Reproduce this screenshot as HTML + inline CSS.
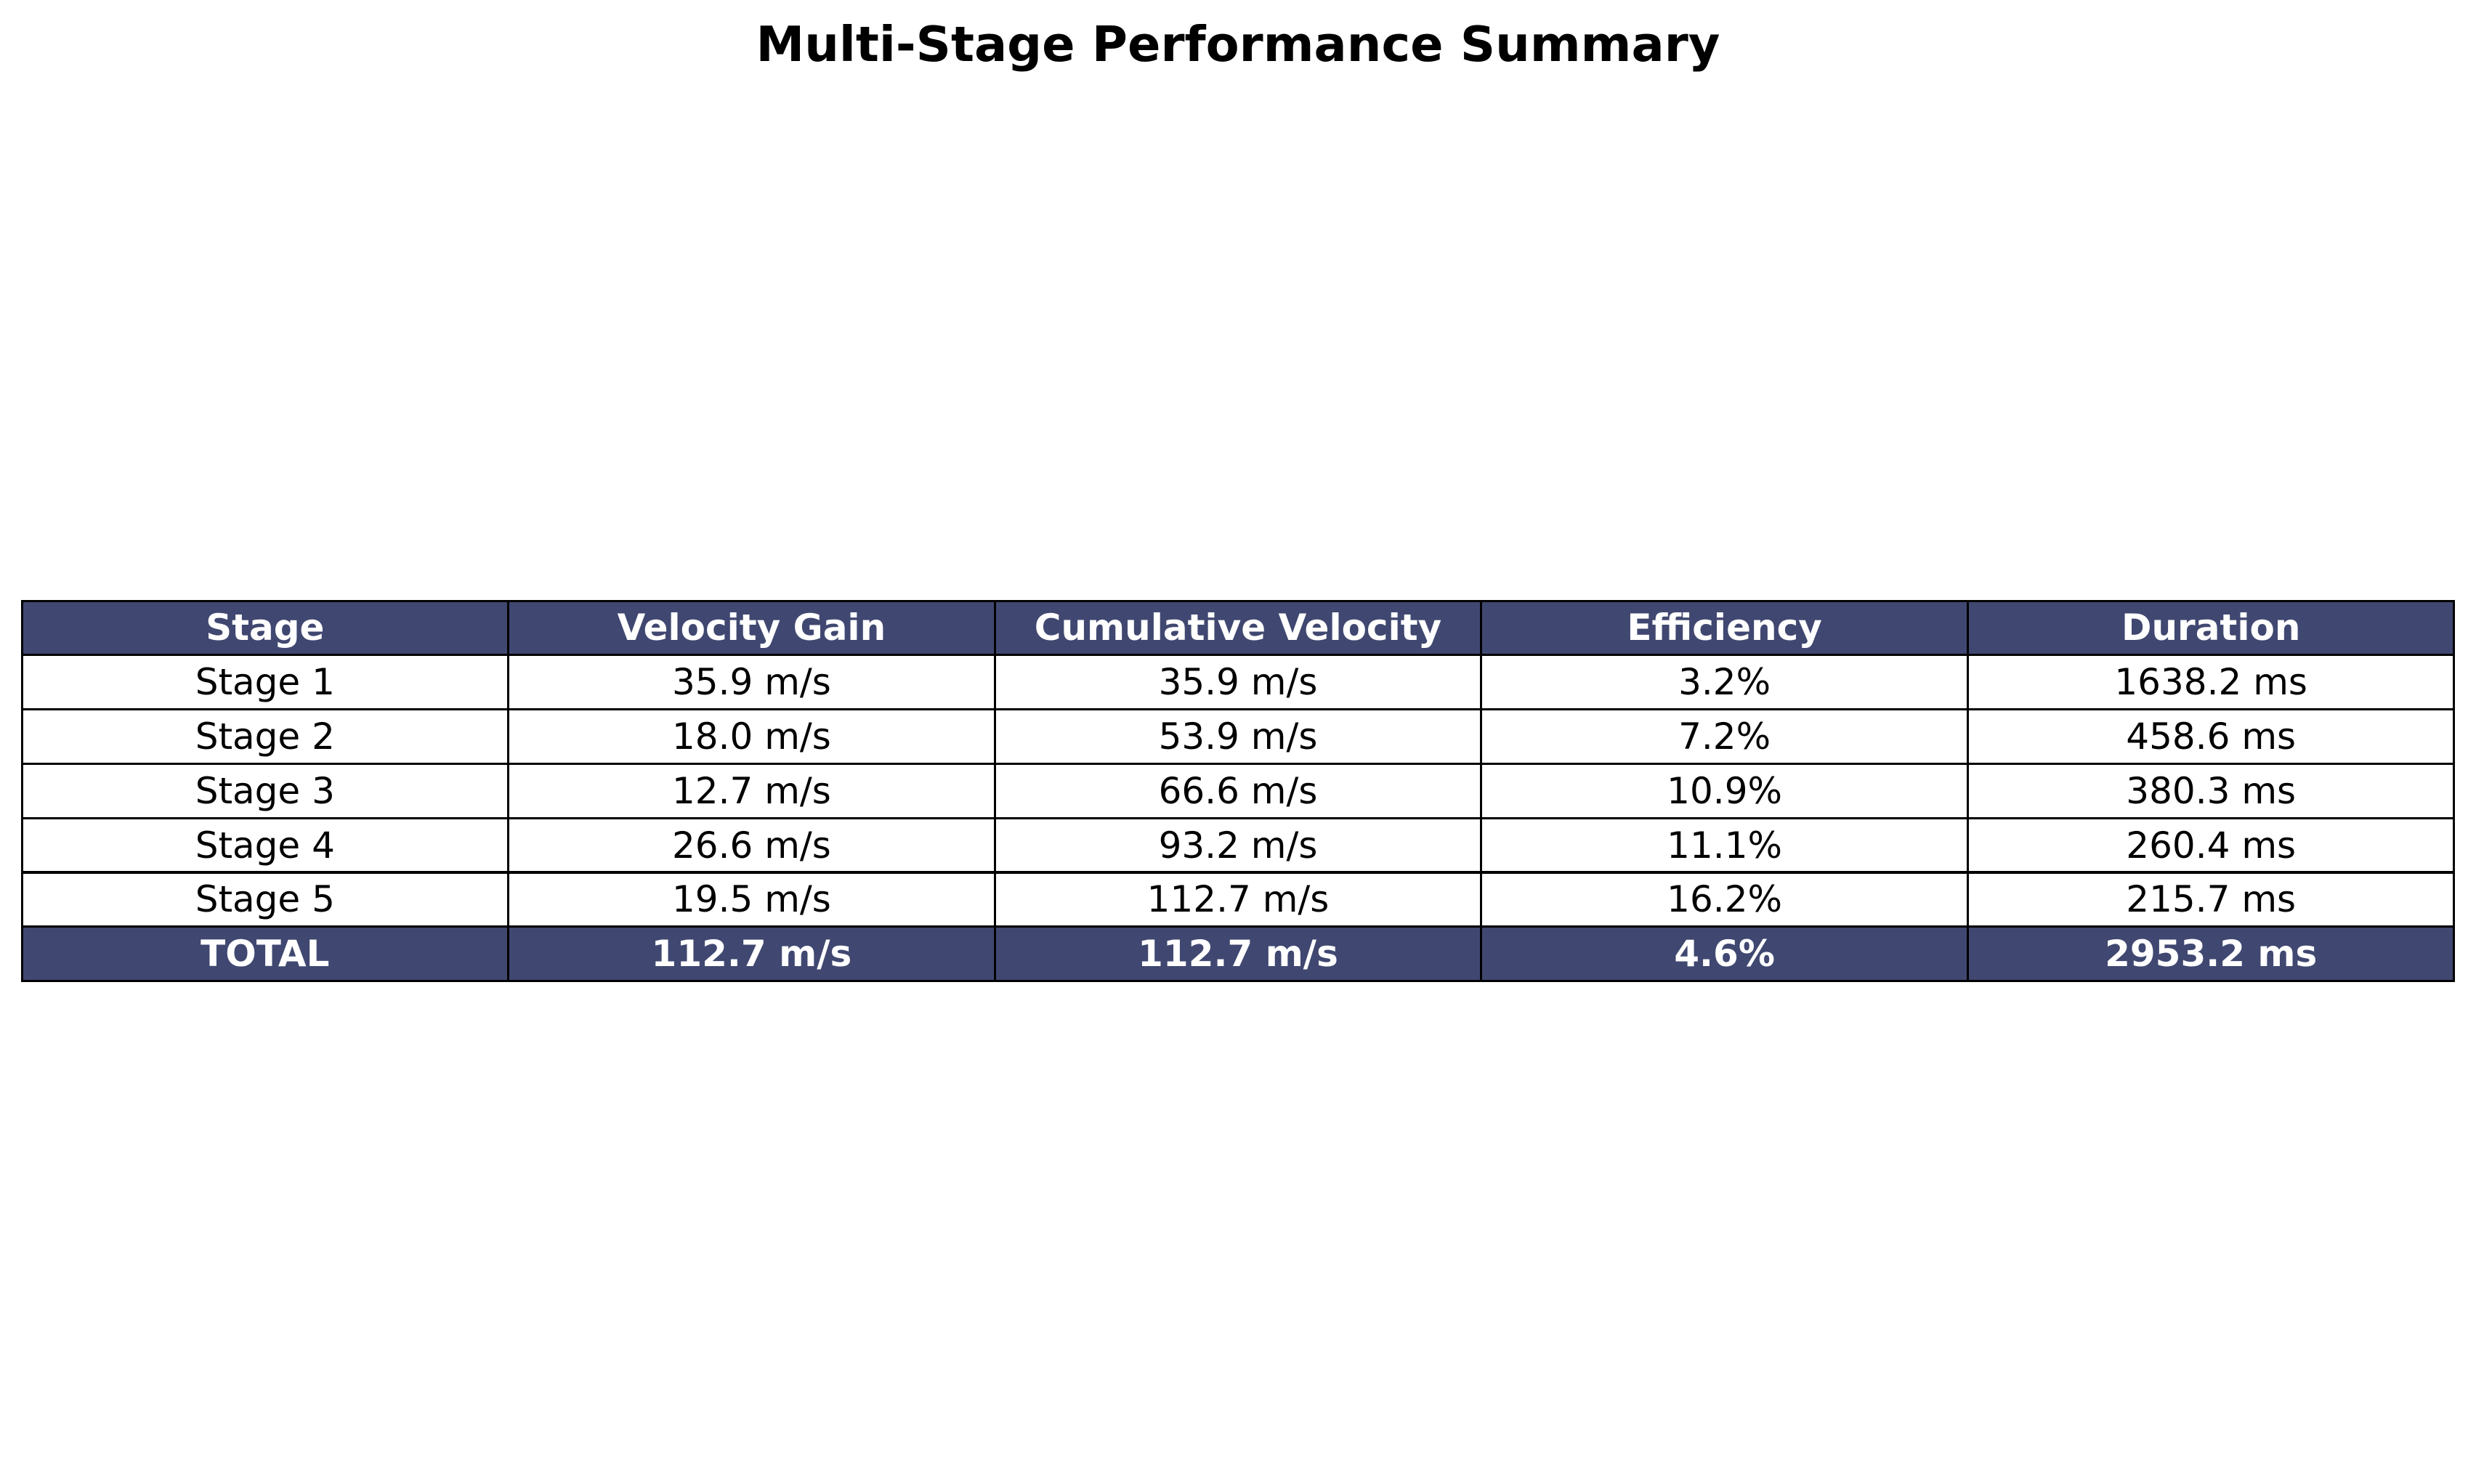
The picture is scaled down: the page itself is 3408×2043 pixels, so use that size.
<!DOCTYPE html>
<html><head><meta charset="utf-8"><style>
body{margin:0;width:3408px;height:2043px;background:#fff;position:relative;overflow:hidden;font-family:"DejaVu Sans","Liberation Sans",sans-serif;}
#title{position:absolute;left:0;width:3408px;top:22px;text-align:center;font-weight:bold;font-size:67px;color:#000;}
.cell{position:absolute;box-sizing:border-box;border:3px solid #000;display:flex;align-items:center;justify-content:center;font-size:50px;color:#000;}
.hd{background:#404871;color:#fff;font-weight:bold;}
</style></head><body>
<div id="title">Multi-Stage Performance Summary</div>
<div id="tbl"></div>
<script>
const headers=["Stage","Velocity Gain","Cumulative Velocity","Efficiency","Duration"];
const stages=["Stage 1","Stage 2","Stage 3","Stage 4","Stage 5"];
const gains=[35.9,18.0,12.7,26.6,19.5];
const cumulative=[35.9,53.9,66.6,93.2,112.7];
const efficiency=[3.2,7.2,10.9,11.1,16.2];
const duration=[1638.2,458.6,380.3,260.4,215.7];
const totalRow=["TOTAL","112.7 m/s","112.7 m/s","4.6%","2953.2 ms"];
const tbl=document.getElementById('tbl');
const X0=30,X1=3378,Y0=827,RH=74.8;
const CW=(X1-X0)/headers.length;
function addCell(r,c,text,hd,name){
  const d=document.createElement('div');
  d.className='cell'+(hd?' hd':'');
  d.style.left=(X0+c*CW-1.5)+'px';d.style.top=(Y0+r*RH-1.5)+'px';
  d.style.width=(CW+3)+'px';d.style.height=(RH+3)+'px';
  d.textContent=text;
  
  
  tbl.appendChild(d);
}
headers.forEach((h,c)=>addCell(0,c,h,true,'header-cell'));
stages.forEach((s,i)=>{
  const vals=[s,gains[i].toFixed(1)+' m/s',cumulative[i].toFixed(1)+' m/s',efficiency[i].toFixed(1)+'%',duration[i].toFixed(1)+' ms'];
  vals.forEach((v,c)=>addCell(i+1,c,v,false,'data-cell'));
});
totalRow.forEach((v,c)=>addCell(stages.length+1,c,v,true,'total-cell'));
</script>
</body></html>
